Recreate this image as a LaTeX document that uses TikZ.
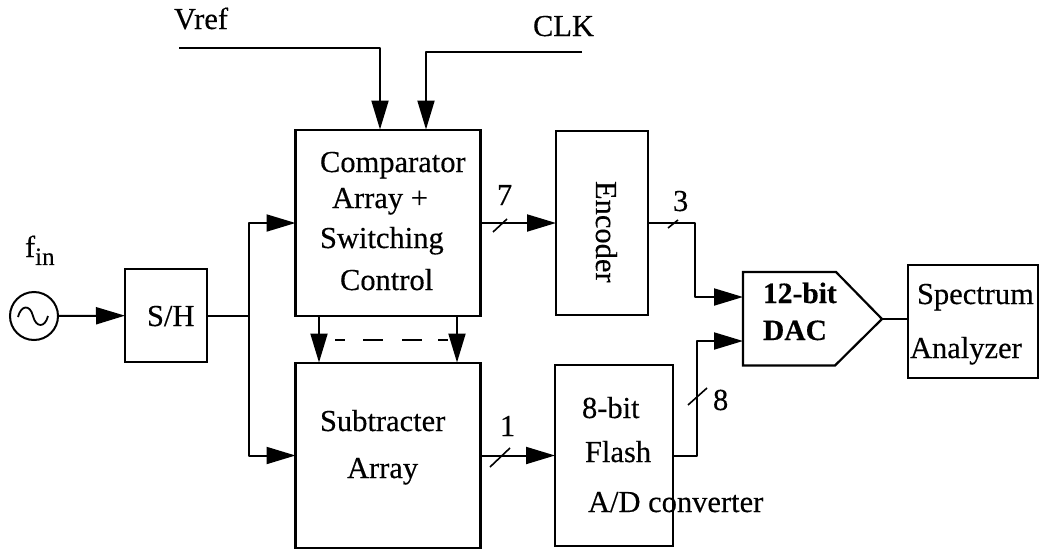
\documentclass[tikz,border=0pt]{standalone}
\usepackage{fontspec}
\setmainfont{Liberation Serif}[FakeBold=0.35]
\usetikzlibrary{arrows.meta}
\begin{document}
\begin{tikzpicture}[x=1pt,y=-1pt,
 wire/.style={line width=2pt,draw=black,line join=round},
 arr/.style={wire,-{Triangle[length=29pt,width=17pt]}},
 blockbox/.style={draw=black,line width=2.2pt,inner sep=0pt,outer sep=0pt},
 lab/.style={font=\fontsize{30.5}{34}\selectfont,inner sep=0pt,outer sep=0pt,text=black,anchor=base west},
 blab/.style={lab,font=\fontsize{29.5}{34}\bfseries\selectfont},
 slash/.style={line width=1.6pt,draw=black}]
\useasboundingbox (0,0) rectangle (1039,549);
% blocks
\node[blockbox,minimum width=82pt,minimum height=93pt] (sh) at (166,315.5) {};
\node[blockbox,minimum width=185pt,minimum height=186pt] (cmp) at (388,223) {};
\node[blockbox,minimum width=185pt,minimum height=185pt] (sub) at (388,455.5) {};
\node[blockbox,minimum width=92pt,minimum height=184pt] (enc) at (602,223) {};
\node[blockbox,minimum width=118pt,minimum height=181pt] (fl) at (614,455.5) {};
\node[blockbox,minimum width=130pt,minimum height=113pt] (sa) at (973,321.5) {};
\node[draw=black,line width=2pt,circle,minimum size=48pt,inner sep=0pt,outer sep=0pt] (src) at (34,316) {};
\draw[line width=1.8pt,black] (18,317) .. controls (21,305) and (30,304) .. (33,316) .. controls (36,328) and (45,328) .. (48,316);
% DAC
\coordinate (dacout) at (882,319);
\draw[blockbox] (743,272) -- (836,272) -- (dacout) -- (835,365.5) -- (743,365.5) -- cycle;
\node[blab] (d1) at (763,303) {12-bit};
\node[blab] (d2) at (763,340) {DAC};
% texts
\node[lab] (fin) at (25,257) {f\textsubscript{\fontsize{25}{28}\selectfont in}};
\node[lab] (vref) at (174,29) {Vref};
\node[lab] (clk) at (533,36) {CLK};
\node[lab] (c1) at (320,172) {Comparator};
\node[lab] (c2) at (332,208) {Array +};
\node[lab] (c3) at (320,248) {Switching};
\node[lab] (c4) at (340,290) {Control};
\node[lab] (shl) at (147,326) {S/H};
\node[lab] (s1) at (320,431) {Subtracter};
\node[lab] (s2) at (347,478) {Array};
\node[lab,rotate=-90] (e1) at (596,181) {Encoder};
\node[lab] (f1) at (582,418) {8-bit};
\node[lab] (f2) at (585,462) {Flash};
\node[lab] (f3) at (588,512) {A/D converter};
\node[lab] (a1) at (917,304) {Spectrum};
\node[lab] (a2) at (910,358) {Analyzer};
\node[lab] (n7) at (497,205) {7};
\node[lab] (n3) at (673,211) {3};
\node[lab] (n1) at (500,436) {1};
\node[lab] (n8) at (713,410) {8};
% vref/clk
\coordinate (vs) at (179,48);
\coordinate (vc) at (380,48);
\coordinate (vt) at (380,129.5);
\coordinate (cs) at (582,52);
\coordinate (cc) at (426,52);
\coordinate (ct) at (426,129.5);
\draw[arr] (vs) -- (vc) -- (vt);
\draw[arr] (cs) -- (cc) -- (ct);
% signal
\draw[arr] (src) -- (sh);
\coordinate (j) at (249,315.5);
\draw[wire] (sh) -- (j);
\draw[arr] (j) |- (cmp.west);
\draw[arr] (j) |- (sub.west);
\coordinate (d1a) at (319,316);
\coordinate (d1b) at (319,362.5);
\coordinate (d2a) at (457,316);
\coordinate (d2b) at (457,362.5);
\draw[arr] (d1a) -- (d1b);
\draw[arr] (d2a) -- (d2b);
\coordinate (da) at (335,340);
\coordinate (db) at (448,340);
\draw[wire,dash pattern=on 10pt off 18pt on 20pt off 19pt on 20pt off 16pt on 10pt] (da) -- (db);
\draw[arr] (cmp.east) -- (enc.west);
\draw[arr] (sub.east) -- (fl.west);
\coordinate (s7a) at (493,232);
\coordinate (s7b) at (507,219);
\coordinate (s1a) at (490,467);
\coordinate (s1b) at (510,448);
\coordinate (s3a) at (668,228);
\coordinate (s3b) at (678,220);
\coordinate (s8a) at (688,405);
\coordinate (s8b) at (707,388);
\draw[slash] (s7a) -- (s7b);
\draw[slash] (s1a) -- (s1b);
\draw[slash] (s3a) -- (s3b);
\draw[slash] (s8a) -- (s8b);
\coordinate (e3) at (695,297);
\coordinate (e2) at (743,297);
\draw[arr] (enc.east) -| (e3) -- (e2);
\coordinate (f8) at (697,341);
\coordinate (f9) at (743,341);
\draw[arr] (fl.east) -| (f8) -- (f9);
\draw[wire] (dacout) -- (sa.west |- dacout);
\end{tikzpicture}
\end{document}
